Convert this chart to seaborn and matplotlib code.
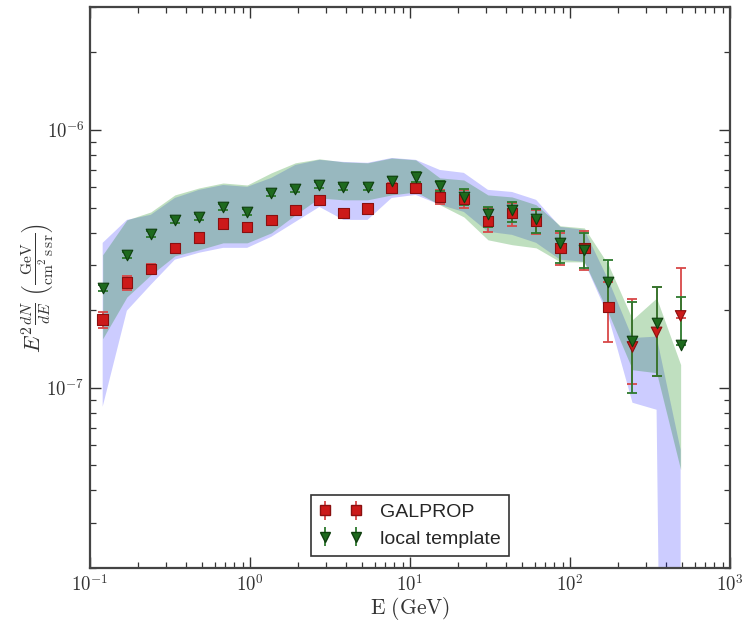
import numpy as np
import pandas as pd
import seaborn as sns
import matplotlib
matplotlib.use("Agg")
import matplotlib.pyplot as plt

# ---------------- data ----------------
energy = [0.12, 0.17, 0.24, 0.339, 0.48, 0.679, 0.96, 1.358, 1.92, 2.715,
          3.84, 5.43, 7.68, 10.86, 15.36, 21.7, 30.7, 43.4, 61.4, 86.9,
          122.9, 173.8, 245.8, 347.6, 491.5]

galprop_flux = [1.84e-7, 2.56e-7, 2.89e-7, 3.49e-7, 3.82e-7, 4.33e-7, 4.21e-7, 4.48e-7,
                4.90e-7, 5.36e-7, 4.77e-7, 4.95e-7, 5.96e-7, 5.96e-7, 5.50e-7, 5.40e-7,
                4.44e-7, 4.77e-7, 4.44e-7, 3.49e-7, 3.49e-7, 2.06e-7, 1.44e-7, 1.64e-7, 1.90e-7]
galprop_err_low = [1.71e-7, 2.40e-7, 2.77e-7, 3.37e-7, 3.68e-7, 4.17e-7, 4.06e-7, 4.33e-7,
                   4.73e-7, 5.17e-7, 4.60e-7, 4.77e-7, 5.71e-7, 5.71e-7, 5.17e-7, 4.99e-7,
                   4.03e-7, 4.25e-7, 3.96e-7, 3.00e-7, 2.87e-7, 1.51e-7, 1.03e-7, 1.11e-7, 1.87e-7]
galprop_err_high = [1.97e-7, 2.72e-7, 3.03e-7, 3.62e-7, 3.96e-7, 4.48e-7, 4.36e-7, 4.65e-7,
                    5.08e-7, 5.55e-7, 4.95e-7, 5.13e-7, 6.23e-7, 6.23e-7, 5.86e-7, 5.86e-7,
                    4.99e-7, 5.22e-7, 4.90e-7, 3.99e-7, 4.06e-7, 2.58e-7, 2.21e-7, 2.46e-7, 2.92e-7]
galprop_marker = ["s"] * 22 + ["v"] * 3

local_flux = [2.44e-7, 3.28e-7, 3.96e-7, 4.48e-7, 4.60e-7, 5.03e-7, 4.81e-7, 5.71e-7,
              5.91e-7, 6.12e-7, 6.02e-7, 6.02e-7, 6.35e-7, 6.58e-7, 6.07e-7, 5.50e-7,
              4.73e-7, 4.90e-7, 4.52e-7, 3.65e-7, 3.43e-7, 2.58e-7, 1.52e-7, 1.79e-7, 1.47e-7]
local_err_low = [2.38e-7, 3.19e-7, 3.85e-7, 4.36e-7, 4.48e-7, 4.90e-7, 4.69e-7, 5.55e-7,
                 5.75e-7, 5.96e-7, 5.86e-7, 5.86e-7, 6.12e-7, 6.29e-7, 5.81e-7, 5.13e-7,
                 4.21e-7, 4.40e-7, 3.99e-7, 3.05e-7, 2.92e-7, 2.01e-7, 9.57e-8, 1.11e-7, 1.47e-7]
local_err_high = [2.51e-7, 3.37e-7, 4.06e-7, 4.60e-7, 4.73e-7, 5.17e-7, 4.95e-7, 5.86e-7,
                  6.07e-7, 6.29e-7, 6.18e-7, 6.18e-7, 6.58e-7, 6.88e-7, 6.35e-7, 5.91e-7,
                  5.03e-7, 5.26e-7, 4.95e-7, 4.06e-7, 3.99e-7, 3.14e-7, 2.16e-7, 2.46e-7, 2.25e-7]

galprop_band_low = [8.44e-8, 1.99e-7, 2.51e-7, 3.14e-7, 3.34e-7, 3.49e-7, 3.49e-7, 3.85e-7,
                    4.40e-7, 5.03e-7, 4.48e-7, 4.48e-7, 5.45e-7, 5.60e-7, 5.13e-7, 4.81e-7,
                    4.03e-7, 3.92e-7, 3.65e-7, 3.14e-7, 3.08e-7, 1.89e-7, 8.75e-8, 8.22e-8, 1e-15]
galprop_band_high = [3.65e-7, 4.48e-7, 4.69e-7, 5.45e-7, 5.86e-7, 6.12e-7, 6.02e-7, 6.52e-7,
                     7.32e-7, 7.66e-7, 7.52e-7, 7.46e-7, 7.79e-7, 7.66e-7, 7.00e-7, 6.82e-7,
                     5.86e-7, 5.75e-7, 5.36e-7, 4.21e-7, 4.10e-7, 2.62e-7, 1.56e-7, 1.58e-7, 5.75e-8]
local_band_low = [1.55e-7, 2.25e-7, 2.74e-7, 3.25e-7, 3.43e-7, 3.65e-7, 3.65e-7, 3.99e-7,
                  4.69e-7, 5.45e-7, 5.36e-7, 5.36e-7, 5.60e-7, 5.75e-7, 5.13e-7, 4.60e-7,
                  3.75e-7, 3.59e-7, 3.49e-7, 3.08e-7, 3.08e-7, 1.95e-7, 1.175e-7, 1.144e-7, 4.81e-8]
local_band_high = [3.28e-7, 4.48e-7, 4.81e-7, 5.60e-7, 5.96e-7, 6.23e-7, 6.12e-7, 6.82e-7,
                   7.46e-7, 7.73e-7, 7.52e-7, 7.46e-7, 7.79e-7, 7.66e-7, 6.52e-7, 6.40e-7,
                   5.60e-7, 5.50e-7, 5.13e-7, 4.25e-7, 4.17e-7, 3.00e-7, 1.84e-7, 2.23e-7, 1.23e-7]

series_labels = ["GALPROP", "local template"]
x_ticks = [0.1, 1, 10, 100, 1000]
x_tick_labels = [r"$10^{-1}$", r"$10^{0}$", r"$10^{1}$", r"$10^{2}$", r"$10^{3}$"]
y_ticks = [1e-7, 1e-6]
y_tick_labels = [r"$10^{-7}$", r"$10^{-6}$"]

# ---------------- style ----------------
sns.set_theme(style="ticks")
plt.rcParams["mathtext.fontset"] = "cm"
plt.rcParams["font.family"] = ["DejaVu Sans"]

RED = "#cc1a1a"
RED_EDGE = "#8a1010"
RED_BAR = "#d84848"
GREEN = "#1e6a1e"
GREEN_EDGE = "#0e3e0e"
GREEN_BAR = "#2d7a2d"

fig = plt.figure(figsize=(7.44, 6.22), dpi=100)
ax = fig.add_axes([90 / 744, 1 - 568 / 622, 640 / 744, 561 / 622])
ax.set_xscale("log")
ax.set_yscale("log")

# bands
ax.fill_between(energy, galprop_band_low, galprop_band_high,
                color="#0000ff", alpha=0.2, linewidth=0, zorder=1)
ax.fill_between(energy, local_band_low, local_band_high,
                color="#008000", alpha=0.25, linewidth=0, zorder=1.1)

E = np.array(energy)
gf = np.array(galprop_flux)
lf = np.array(local_flux)
g_yerr = [gf - np.array(galprop_err_low), np.array(galprop_err_high) - gf]
l_yerr = [lf - np.array(local_err_low), np.array(local_err_high) - lf]

ax.errorbar(E, gf, yerr=g_yerr, fmt="none", ecolor=RED_BAR, elinewidth=1.3,
            capsize=3.5, capthick=1.3, zorder=3)
ax.errorbar(E, lf, yerr=l_yerr, fmt="none", ecolor=GREEN_BAR, elinewidth=1.3,
            capsize=3.5, capthick=1.3, zorder=3.2)

df_g = pd.DataFrame({"E": energy, "flux": galprop_flux, "m": galprop_marker})
df_l = pd.DataFrame({"E": energy, "flux": local_flux, "m": ["v"] * len(energy)})

sns.scatterplot(data=df_g, x="E", y="flux", style="m", markers={"s": "s", "v": "v"},
                color=RED, edgecolor=RED_EDGE, linewidth=0.8, s=58, legend=False,
                ax=ax, zorder=4)
sns.scatterplot(data=df_l, x="E", y="flux", marker="v", color=GREEN,
                edgecolor=GREEN_EDGE, linewidth=0.8, s=58, legend=False, ax=ax, zorder=4.2)

# legend handles (errorbar style, two points)
h1 = ax.errorbar([], [], yerr=[], fmt="s", color=RED, mec=RED_EDGE, ms=7,
                 ecolor=RED_BAR, capsize=3.5, elinewidth=1.3, label=series_labels[0])
h2 = ax.errorbar([], [], yerr=[], fmt="v", color=GREEN, mec=GREEN_EDGE, ms=7,
                 ecolor=GREEN_BAR, capsize=3.5, elinewidth=1.3, label=series_labels[1])
leg = ax.legend(handles=[h1, h2], loc="lower center", numpoints=2, fancybox=False,
                frameon=True, edgecolor="#333333", framealpha=1, borderaxespad=0.6,
                prop={"family": "Liberation Sans", "size": 14}, handlelength=2.2,
                handletextpad=0.9, borderpad=0.45, labelspacing=0.45)
leg.get_frame().set_linewidth(1.2)

ax.set_xlim(0.1, 1000)
ax.set_ylim(2e-8, 3e-6)
ax.set_xticks(x_ticks)
ax.set_xticklabels(x_tick_labels)
ax.set_yticks(y_ticks)
ax.set_yticklabels(y_tick_labels)
ax.tick_params(axis="both", which="both", direction="in", top=True, right=True,
               colors="#333333", labelcolor="#333333")
ax.tick_params(axis="both", which="major", length=8, width=1.0, labelsize=13.5, pad=4)
ax.tick_params(axis="both", which="minor", length=4, width=0.9)
for sp in ax.spines.values():
    sp.set_color("#444444")
    sp.set_linewidth(1.6)

ax.set_xlabel(r"$\mathrm{E\ (GeV)}$", fontsize=15.5, color="#333333", labelpad=0)
ax.set_ylabel(r"$E^2\frac{dN}{dE}\ \left(\frac{\mathrm{GeV}}{\mathrm{cm^2\,s\,sr}}\right)$",
              fontsize=16, color="#333333", labelpad=-6)

fig.savefig("out.png", dpi=100, facecolor="white")
